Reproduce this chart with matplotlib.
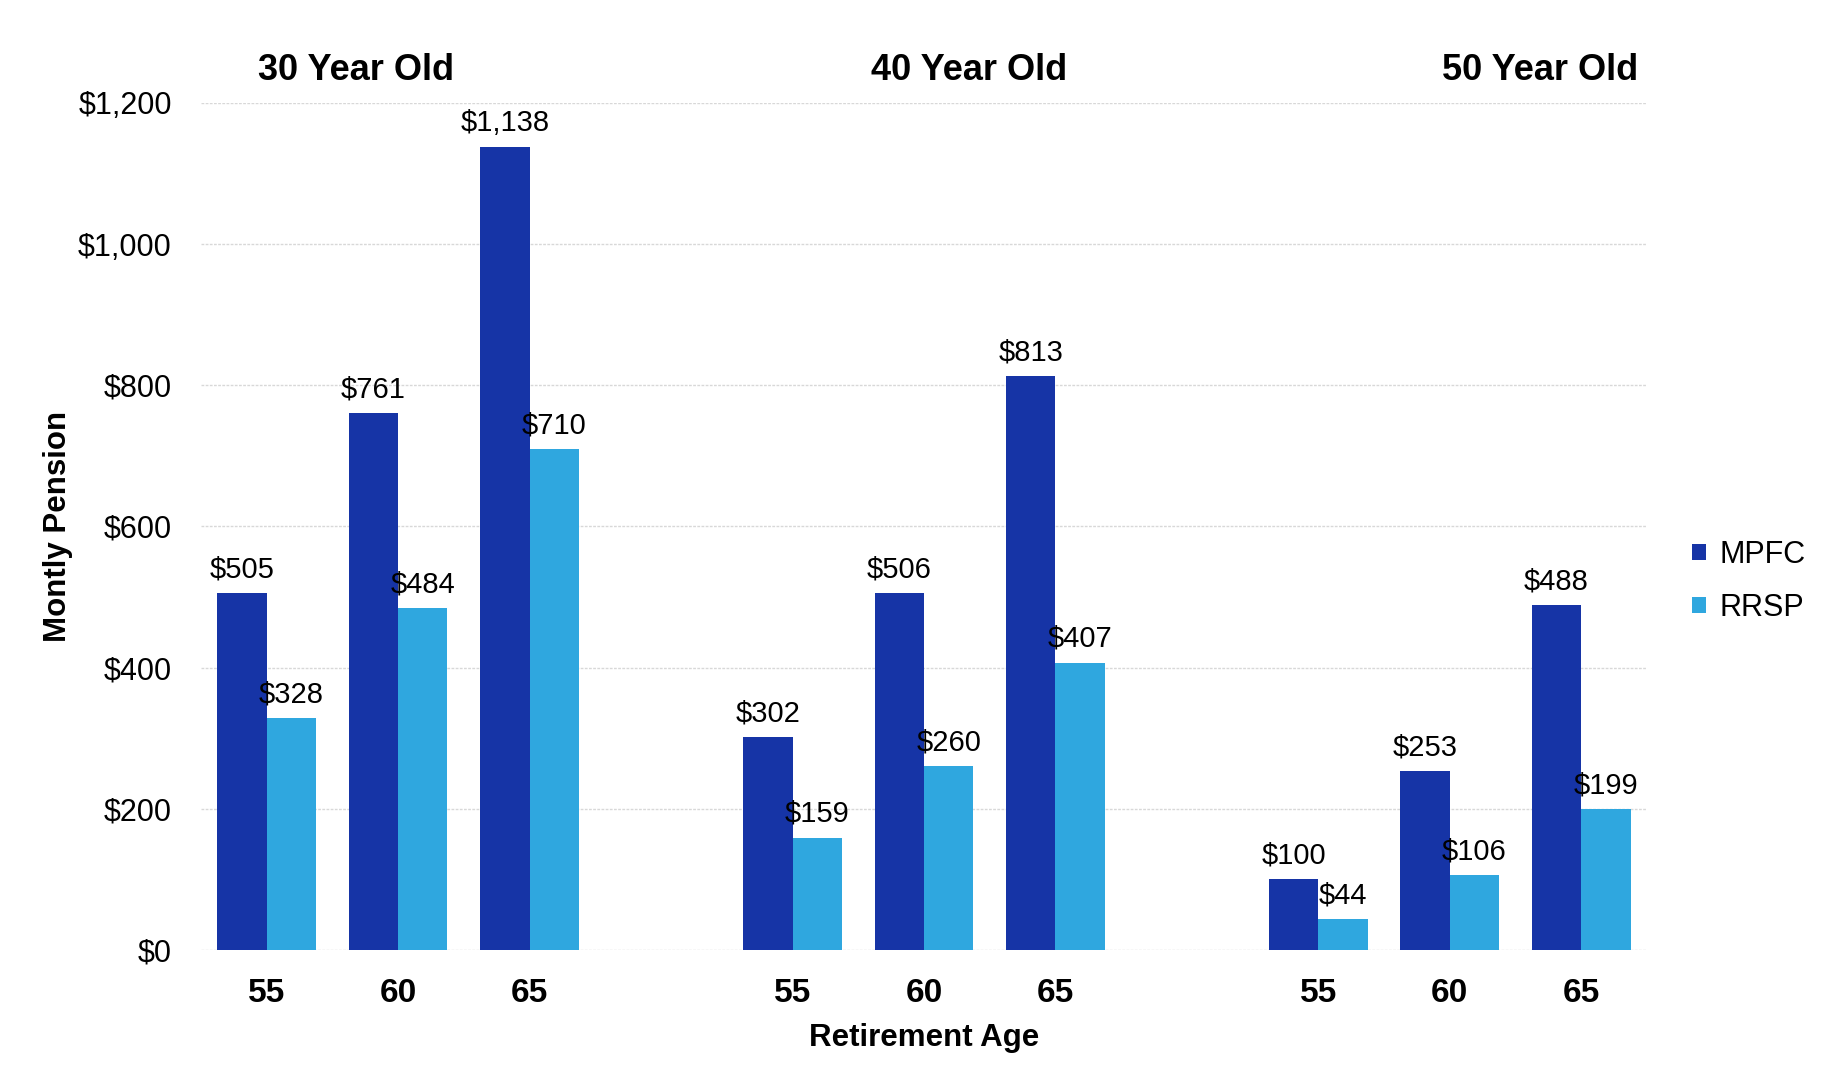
import numpy as np
import matplotlib.pyplot as plt

plt.rcParams['font.family'] = ['Liberation Sans', 'DejaVu Sans']

groups = ['30 Year Old', '40 Year Old', '50 Year Old']
ages = ['55', '60', '65']
mpfc = [505, 761, 1138, 302, 506, 813, 100, 253, 488]
rrsp = [328, 484, 710, 159, 260, 407, 44, 106, 199]

dark = '#1634a6'
light = '#2fa7df'

# 3 bars per group, one empty slot between groups
x = np.array([0, 1, 2, 4, 5, 6, 8, 9, 10])
w = 0.375

fig = plt.figure(figsize=(18.34, 10.79), dpi=100)
ax = fig.add_axes([0.1096, 0.1196, 0.7884, 0.785])

b1 = ax.bar(x - w / 2, mpfc, w, color=dark, label='MPFC', zorder=3)
b2 = ax.bar(x + w / 2, rrsp, w, color=light, label='RRSP', zorder=3)

for bars, vals in [(b1, mpfc), (b2, rrsp)]:
    for b, v in zip(bars, vals):
        ax.annotate(f'${v:,}', (b.get_x() + b.get_width() / 2, v),
                    xytext=(0, 7), textcoords='offset points',
                    ha='center', va='bottom', fontsize=21)

ax.set_xlim(-0.5, 10.5)
ax.set_ylim(0, 1200)
ax.set_yticks(range(0, 1201, 200))
ax.set_yticklabels([f'${v:,}' for v in range(0, 1201, 200)], fontsize=22)
ax.set_xticks(x)
ax.set_xticklabels(ages * 3, fontsize=24, fontweight='bold')
ax.tick_params(length=0)
ax.tick_params(axis='x', pad=20)
ax.tick_params(axis='y', pad=21)
ax.grid(axis='y', color='#d8d8d8', linestyle=(0, (2, 1)), linewidth=1, zorder=0)
for s in ax.spines.values():
    s.set_visible(False)

ax.set_xlabel('Retirement Age', fontsize=22.5, fontweight='bold', labelpad=10)
ax.set_ylabel('Montly Pension', fontsize=22.5, fontweight='bold', labelpad=4)

title_x = [0.68, 5.34, 9.69]
for tx, g in zip(title_x, groups):
    ax.text(tx, 1246, g, ha='center', va='center', fontsize=26, fontweight='bold')

ax.legend(loc='center left', bbox_to_anchor=(1.012, 0.435), frameon=False,
          fontsize=22, handlelength=0.45, handleheight=0.45, handletextpad=0.45,
          labelspacing=0.75)

fig.savefig('out.png', dpi=100, facecolor='white')
